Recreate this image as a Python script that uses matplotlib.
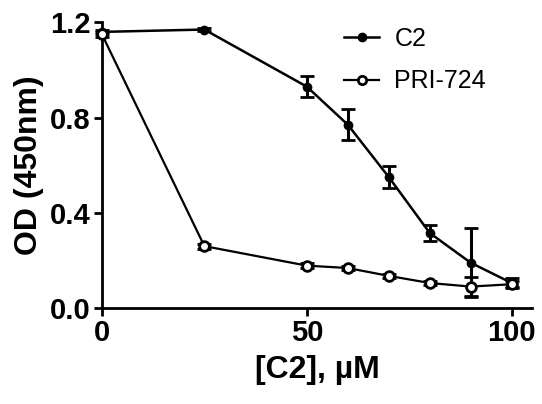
import matplotlib
matplotlib.use("Agg")
import matplotlib.pyplot as plt
from matplotlib.lines import Line2D

plt.rcParams['font.family'] = ['Liberation Sans', 'DejaVu Sans']

# concentrations (uM)
conc = [0, 25, 50, 60, 70, 80, 90, 100]

c2_od = [1.16, 1.17, 0.93, 0.77, 0.55, 0.315, 0.19, 0.105]
c2_err = [0.01, 0.005, 0.045, 0.065, 0.045, 0.035, 0.145, 0.02]

pri_od = [1.15, 0.26, 0.178, 0.168, 0.135, 0.105, 0.09, 0.10]
pri_err = [0.01, 0.01, 0.01, 0.008, 0.008, 0.008, 0.04, 0.012]

x_ticks = [0, 50, 100]
y_ticks = [0.0, 0.4, 0.8, 1.2]
y_tick_labels = ["0.0", "0.4", "0.8", "1.2"]

fig = plt.figure(figsize=(5.42, 4.04), dpi=100)
ax = fig.add_axes([0.188, 0.2376, 0.794, 0.707])

c2_style = dict(color="black", lw=1.8, marker="o", ms=6, mfc="black", mec="black")
pri_style = dict(color="black", lw=1.6, marker="o", ms=7, mfc="white", mec="black", mew=2)

ax.errorbar(conc, c2_od, yerr=c2_err, capsize=5, capthick=2, elinewidth=2.2,
            clip_on=False, zorder=3, **c2_style)
ax.errorbar(conc, pri_od, yerr=pri_err, capsize=5, capthick=2, elinewidth=2.2,
            clip_on=False, zorder=3, **pri_style)

ax.set_xlim(0, 105)
ax.set_ylim(0, 1.2)
ax.set_xticks(x_ticks)
ax.set_yticks(y_ticks)
ax.set_yticklabels(y_tick_labels)

for side in ("top", "right"):
    ax.spines[side].set_visible(False)
for side in ("left", "bottom"):
    ax.spines[side].set_linewidth(2)

ax.tick_params(axis="both", direction="out", length=6, width=2,
               labelsize=21, pad=2)
for lbl in ax.get_xticklabels() + ax.get_yticklabels():
    lbl.set_fontweight("bold")

ax.set_xlabel("[C2], \u00b5M", fontsize=23, fontweight="bold", labelpad=6)
ax.set_ylabel("OD (450nm)", fontsize=23, fontweight="bold", labelpad=4)

handles = [Line2D([], [], **c2_style), Line2D([], [], **{**pri_style, "ms": 6})]
ax.legend(handles, ["C2", "PRI-724"], loc="upper left",
          bbox_to_anchor=(0.54, 1.02), frameon=False, fontsize=18,
          handlelength=1.4, handletextpad=0.6, labelspacing=0.75,
          borderaxespad=0)

fig.savefig("out.png", dpi=100)
